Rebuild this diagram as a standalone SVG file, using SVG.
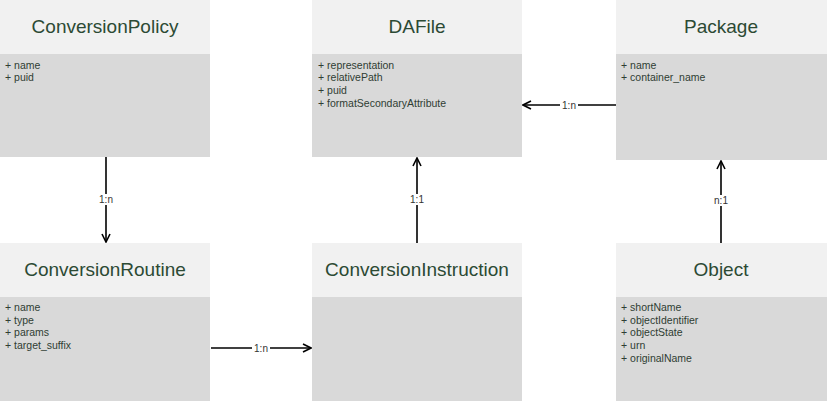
<svg xmlns="http://www.w3.org/2000/svg" width="827" height="401" viewBox="0 0 827 401">
<style>
.hd{fill:#f1f1f1}
.bd{fill:#d9d9d9}
.tt{font-family:"Liberation Sans",Arial,sans-serif;font-size:19px;fill:#2c4a34;text-anchor:middle}
.at{font-family:"Liberation Sans",Arial,sans-serif;font-size:10.5px;fill:#2f3d33}
.ln{stroke:#000;stroke-width:1.6;fill:none}
.lb{font-family:"Liberation Sans",Arial,sans-serif;font-size:10px;fill:#333;text-anchor:middle}
.lbg{fill:#fff}
</style>
<defs>
<marker id="ar" viewBox="0 0 10 10" refX="9" refY="5" markerWidth="10" markerHeight="10" markerUnits="userSpaceOnUse" orient="auto">
<path d="M1,1 L9,5 L1,9" fill="none" stroke="#000" stroke-width="1.6"/>
</marker>
</defs>
<rect width="827" height="401" fill="#fff"/>
<g id="ConversionPolicy">
<rect class="hd" x="0" y="0" width="210" height="54"/>
<rect class="bd" x="0" y="54" width="210" height="103"/>
<text class="tt" x="105" y="33">ConversionPolicy</text>
<text class="at" x="5" y="69">+ name</text>
<text class="at" x="5" y="81">+ puid</text>
</g>
<g id="DAFile">
<rect class="hd" x="312" y="0" width="210" height="54"/>
<rect class="bd" x="312" y="54" width="210" height="103"/>
<text class="tt" x="417" y="33">DAFile</text>
<text class="at" x="318" y="69">+ representation</text>
<text class="at" x="318" y="81">+ relativePath</text>
<text class="at" x="318" y="94">+ puid</text>
<text class="at" x="318" y="107">+ formatSecondaryAttribute</text>
</g>
<g id="Package">
<rect class="hd" x="616" y="0" width="211" height="54"/>
<rect class="bd" x="616" y="54" width="211" height="106"/>
<text class="tt" x="721" y="33">Package</text>
<text class="at" x="621" y="69">+ name</text>
<text class="at" x="621" y="81">+ container_name</text>
</g>
<g id="ConversionRoutine">
<rect class="hd" x="0" y="243" width="210" height="54"/>
<rect class="bd" x="0" y="297" width="210" height="104"/>
<text class="tt" x="105" y="276">ConversionRoutine</text>
<text class="at" x="5" y="311">+ name</text>
<text class="at" x="5" y="324">+ type</text>
<text class="at" x="5" y="336">+ params</text>
<text class="at" x="5" y="349">+ target_suffix</text>
</g>
<g id="ConversionInstruction">
<rect class="hd" x="312" y="243" width="210" height="54"/>
<rect class="bd" x="312" y="297" width="210" height="104"/>
<text class="tt" x="417" y="276">ConversionInstruction</text>
</g>
<g id="Object">
<rect class="hd" x="616" y="243" width="211" height="54"/>
<rect class="bd" x="616" y="297" width="211" height="104"/>
<text class="tt" x="721" y="276">Object</text>
<text class="at" x="621" y="311">+ shortName</text>
<text class="at" x="621" y="324">+ objectIdentifier</text>
<text class="at" x="621" y="336">+ objectState</text>
<text class="at" x="621" y="349">+ urn</text>
<text class="at" x="621" y="362">+ originalName</text>
</g>
<g id="connectors">
<line class="ln" x1="106" y1="157" x2="106" y2="242" marker-end="url(#ar)"/>
<rect class="lbg" x="97" y="194" width="18" height="11"/>
<text class="lb" x="106" y="203">1:n</text>
<line class="ln" x1="211" y1="348" x2="311" y2="348" marker-end="url(#ar)"/>
<rect class="lbg" x="252" y="343" width="18" height="11"/>
<text class="lb" x="261" y="352">1:n</text>
<line class="ln" x1="417" y1="243" x2="417" y2="158" marker-end="url(#ar)"/>
<rect class="lbg" x="408" y="194" width="18" height="11"/>
<text class="lb" x="417" y="203">1:1</text>
<line class="ln" x1="616" y1="105" x2="523" y2="105" marker-end="url(#ar)"/>
<rect class="lbg" x="560" y="100" width="18" height="11"/>
<text class="lb" x="569" y="109">1:n</text>
<line class="ln" x1="721" y1="243" x2="721" y2="161" marker-end="url(#ar)"/>
<rect class="lbg" x="712" y="195" width="18" height="11"/>
<text class="lb" x="721" y="204">n:1</text>
</g>
</svg>
